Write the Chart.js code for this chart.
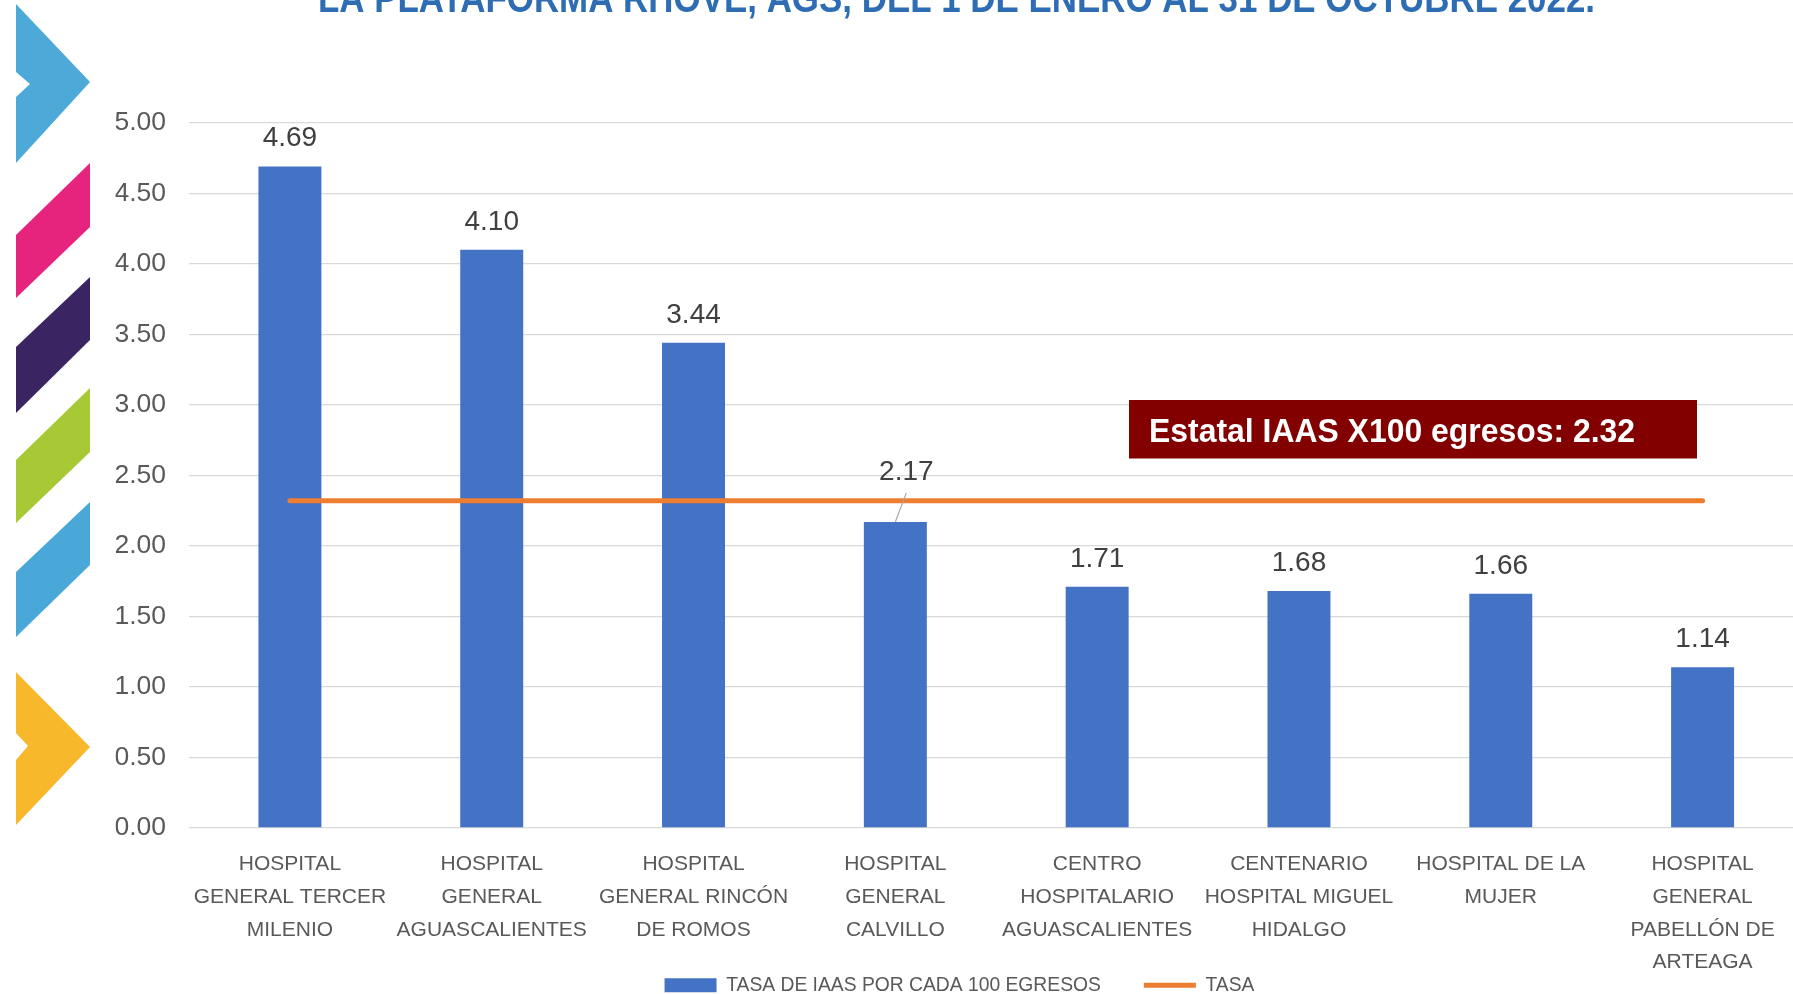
<!DOCTYPE html>
<html><head><meta charset="utf-8">
<script src="https://cdn.jsdelivr.net/npm/chart.js@4.4.1/dist/chart.umd.min.js"></script>
<style>html,body{margin:0;padding:0;overflow:hidden;background:#fff}#wrap{position:absolute;left:0;top:0;width:1810px;height:994px}</style>
</head><body><div id="wrap"><canvas id="c" width="1810" height="994"></canvas></div>
<script>
const titleText = "LA PLATAFORMA RHOVE, AGS, DEL 1 DE ENERO AL 31 DE OCTUBRE 2022.";
const categories = [
  ["HOSPITAL","GENERAL TERCER","MILENIO"],
  ["HOSPITAL","GENERAL","AGUASCALIENTES"],
  ["HOSPITAL","GENERAL RINCÓN","DE ROMOS"],
  ["HOSPITAL","GENERAL","CALVILLO"],
  ["CENTRO","HOSPITALARIO","AGUASCALIENTES"],
  ["CENTENARIO","HOSPITAL MIGUEL","HIDALGO"],
  ["HOSPITAL DE LA","MUJER"],
  ["HOSPITAL","GENERAL","PABELLÓN DE","ARTEAGA"]
];
const seriesNames = ["TASA DE IAAS POR CADA 100 EGRESOS", "TASA"];
const tasaValues = [4.69, 4.10, 3.44, 2.17, 1.71, 1.68, 1.66, 1.14];
const estatalValues = [2.32, 2.32, 2.32, 2.32, 2.32, 2.32, 2.32, 2.32];
const yTickLabels = ["0.00","0.50","1.00","1.50","2.00","2.50","3.00","3.50","4.00","4.50","5.00"];
const annotationText = "Estatal IAAS X100 egresos: 2.32";
const leaderIndex = 3;

const FONT = '"Liberation Sans", Arial, sans-serif';

const decoPlugin = {
  id: 'deco',
  afterLayout(chart) {
    // let the multi-line category labels overflow their (shortened) axis box
    if (chart.scales.x) chart.scales.x._computeLabelArea = function () { return undefined; };
  },
  beforeDraw(chart) {
    const ctx = chart.ctx;
    ctx.save();
    const shapes = [
      ['#4CA9D8', [[16,4],[90,82],[16,163],[16,97],[30,84],[16,72]]],
      ['#E6247E', [[16,235],[90,163],[90,227],[16,298]]],
      ['#3A2562', [[16,347],[90,277],[90,340],[16,413]]],
      ['#A6C935', [[16,460],[90,388],[90,452],[16,523]]],
      ['#4AA8D8', [[16,572],[90,502],[90,565],[16,637]]],
      ['#F8B82B', [[16,672],[90,747],[16,825],[16,760],[28,746],[16,733]]]
    ];
    for (const [col, pts] of shapes) {
      ctx.beginPath();
      pts.forEach((p, i) => i ? ctx.lineTo(p[0], p[1]) : ctx.moveTo(p[0], p[1]));
      ctx.closePath();
      ctx.fillStyle = col;
      ctx.fill();
    }
    // title (cut at top)
    ctx.font = 'bold 40px ' + FONT;
    const w = ctx.measureText(titleText).width;
    ctx.translate(318, 12);
    ctx.scale(1277 / w, 1);
    ctx.fillStyle = '#2E6DB4';
    ctx.textBaseline = 'alphabetic';
    ctx.textAlign = 'left';
    ctx.fillText(titleText, 0, 0);
    ctx.restore();
  }
};

const labelPlugin = {
  id: 'dataLabels',
  afterDatasetsDraw(chart) {
    const ctx = chart.ctx;
    const meta = chart.getDatasetMeta(0);
    ctx.save();
    ctx.font = '28px ' + FONT;
    ctx.fillStyle = '#404040';
    ctx.textAlign = 'center';
    ctx.textBaseline = 'alphabetic';
    meta.data.forEach((el, i) => {
      let x = el.x, y = el.y - 20;
      if (i === leaderIndex) {
        x = el.x + 11; y = el.y - 42;
        ctx.strokeStyle = '#A6A6A6';
        ctx.lineWidth = 1.2;
        ctx.beginPath();
        ctx.moveTo(el.x + 11, el.y - 29);
        ctx.lineTo(el.x, el.y);
        ctx.stroke();
      }
      ctx.fillText(tasaValues[i].toFixed(2), x, y);
    });
    // annotation box
    ctx.fillStyle = '#820000';
    ctx.fillRect(1129, 400, 568, 58.5);
    ctx.font = 'bold 34px ' + FONT;
    const tw = ctx.measureText(annotationText).width;
    ctx.translate(1149, 441.5);
    ctx.scale(486 / tw, 1);
    ctx.textAlign = 'left';
    ctx.fillStyle = '#FFFFFF';
    ctx.fillText(annotationText, 0, 0);
    ctx.restore();
  }
};

new Chart(document.getElementById('c'), {
  data: {
    labels: categories,
    datasets: [
      {
        type: 'bar',
        label: seriesNames[0],
        data: tasaValues,
        backgroundColor: '#4472C4',
        borderWidth: 0,
        barPercentage: 0.312,
        categoryPercentage: 1,
        order: 2,
        pointStyle: 'rect'
      },
      {
        type: 'line',
        label: seriesNames[1],
        data: estatalValues,
        borderColor: '#ED7D31',
        backgroundColor: '#ED7D31',
        borderWidth: 5,
        borderCapStyle: 'round',
        pointRadius: 0,
        pointHoverRadius: 0,
        order: 1,
        pointStyle: 'line'
      }
    ]
  },
  options: {
    responsive: false,
    animation: false,
    devicePixelRatio: 1,
    layout: { padding: { left: 115.5, right: 6.5, top: 122.7, bottom: 0 } },
    plugins: {
      tooltip: { enabled: false },
      title: { display: false },
      legend: {
        position: 'bottom',
        maxHeight: 61.3,
        labels: {
          usePointStyle: true,
          pointStyleWidth: 52,
          boxHeight: 14,
          padding: 43,
          color: '#595959',
          font: { family: FONT, size: 19.3 },
          sort: (a, b) => a.datasetIndex - b.datasetIndex
        }
      }
    },
    scales: {
      x: {
        grid: { display: false, drawTicks: false },
        border: { display: false },
        ticks: {
          autoSkip: false, maxRotation: 0, minRotation: 0, padding: 20,
          color: '#595959',
          font: { family: FONT, size: 21, lineHeight: 1.56 }
        },
        afterFit: s => { s.height = 104.7; }
      },
      y: {
        min: 0, max: 5,
        grid: { color: '#D9D9D9', lineWidth: 1.3, drawTicks: false },
        border: { display: false },
        ticks: {
          stepSize: 0.5, padding: 23, color: '#595959',
          font: { family: FONT, size: 26.5 },
          callback: (v, i) => yTickLabels[i]
        },
        afterFit: s => { s.width = 73.5; }
      }
    }
  },
  plugins: [decoPlugin, labelPlugin]
});
</script>
</body></html>
